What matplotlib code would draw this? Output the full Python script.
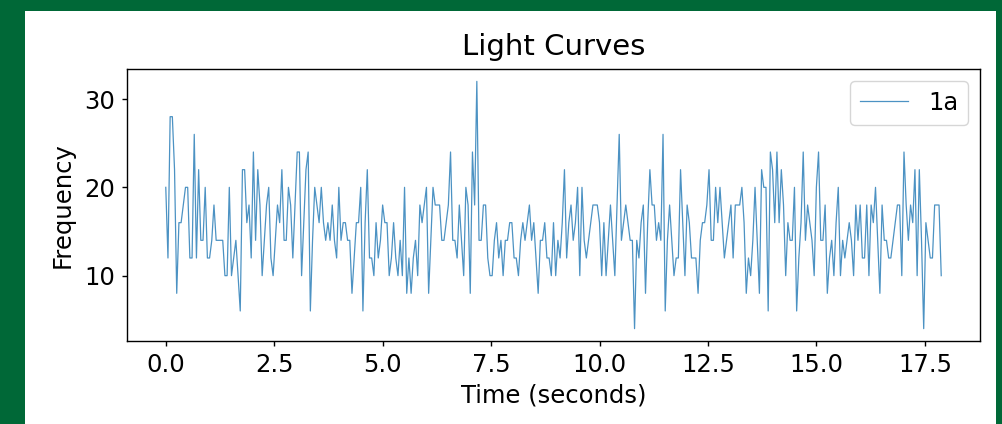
import numpy as np
from matplotlib import pyplot as plt
from matplotlib.patches import Rectangle

# light curve samples, about 0.05 s apart
step = 0.0505
freq_1a = [
    20, 12, 28, 28, 22, 8, 16, 16, 18, 20, 20, 12, 12, 26, 12, 22, 14, 14, 20, 12,
    12, 14, 18, 14, 14, 14, 14, 10, 10, 20, 10, 12, 14, 10, 6, 22, 22, 16, 18, 12,
    24, 14, 22,
    18, 10, 14, 18, 20, 12, 10, 14, 18, 16, 22, 14, 14, 20, 18, 12, 18, 24, 24, 10,
    16, 22, 24, 6, 14, 20, 18, 16, 20, 16, 14, 16, 14, 18, 14, 12, 20, 14, 16, 16,
    14, 14, 8, 12, 16,
    16, 20, 6, 16, 22, 12, 12, 10, 16, 12, 14, 18, 16, 16, 10, 12, 16, 12, 10, 14,
    10, 20, 8, 12, 8, 12, 14, 10, 18, 16, 18, 20, 8, 14, 20, 18, 18, 18, 14, 14,
    16, 18, 24, 14,
    14, 12, 18, 14, 10, 20, 18, 8, 24, 18, 32, 14, 14, 18, 18, 12, 10, 10, 14, 16,
    12, 14, 10, 14, 14, 16, 16, 12, 12, 10, 14, 16, 14, 16, 18, 14, 16, 12, 8, 14,
    14, 16, 12, 12, 10,
    16, 10, 14, 12, 16, 22, 12, 16, 18, 14, 16, 20, 10, 20, 14, 12, 14, 16, 18, 18,
    18, 16, 10, 16, 10, 14, 18, 14, 10, 18, 26, 14, 16, 18, 16, 14, 14, 4, 14, 12,
    16, 18, 8, 16, 22,
    18, 18, 14, 16, 14, 26, 6, 14, 18, 14, 10, 12, 12, 22, 16, 10, 18, 16, 12, 12,
    12, 8, 14, 16, 16, 18, 22, 14, 14, 20, 16, 20, 16, 12, 14, 16, 18, 12, 18, 18,
    18, 20, 16, 8,
    12, 10, 14, 20, 14, 8, 22, 20, 20, 6, 24, 22, 16, 24, 16, 22, 18, 10, 16, 14,
    14, 20, 6, 12, 16, 24, 14, 18, 16, 14, 10, 20, 24, 14, 14, 18, 8, 12, 14, 10,
    16, 20, 10, 14, 12,
    14, 16, 14, 10, 18, 14, 18, 12, 12, 18, 10, 18, 16, 20, 14, 8, 18, 14, 14, 12,
    12, 14, 16, 18, 18, 10, 24, 18, 14, 18, 16, 22, 10, 22, 14, 4, 16, 14, 12, 12,
    18, 18, 18, 10,
]
t = np.arange(len(freq_1a)) * step
y_ticks = [10, 20, 30]

green = "#006837"

fig = plt.figure(figsize=(10.03, 4.24), dpi=100, facecolor=green)
# white card inside the green frame, kept behind the axes
fig.patches.append(Rectangle((25 / 1003, 0), (996 - 25) / 1003, (424 - 11) / 424,
                             transform=fig.transFigure, facecolor="white",
                             edgecolor="none", zorder=-10))

ax = fig.add_axes([127 / 1003, 83 / 424, 853 / 1003, 272 / 424])
ax.plot(t, freq_1a, color="#1f77b4", linewidth=0.9, alpha=0.8, label="1a")
ax.set_yticks(y_ticks)
ax.set_title("Light Curves", fontsize=21, pad=10)
ax.set_xlabel("Time (seconds)", fontsize=17.5, labelpad=5)
ax.set_ylabel("Frequency", fontsize=17.5, labelpad=7)
ax.tick_params(labelsize=17.5, length=3.5, width=1, pad=5)
for s in ax.spines.values():
    s.set_linewidth(1.0)
ax.legend(loc="upper right", fontsize=17.5)

plt.savefig("out.png", dpi=100, facecolor=green)
plt.close()
